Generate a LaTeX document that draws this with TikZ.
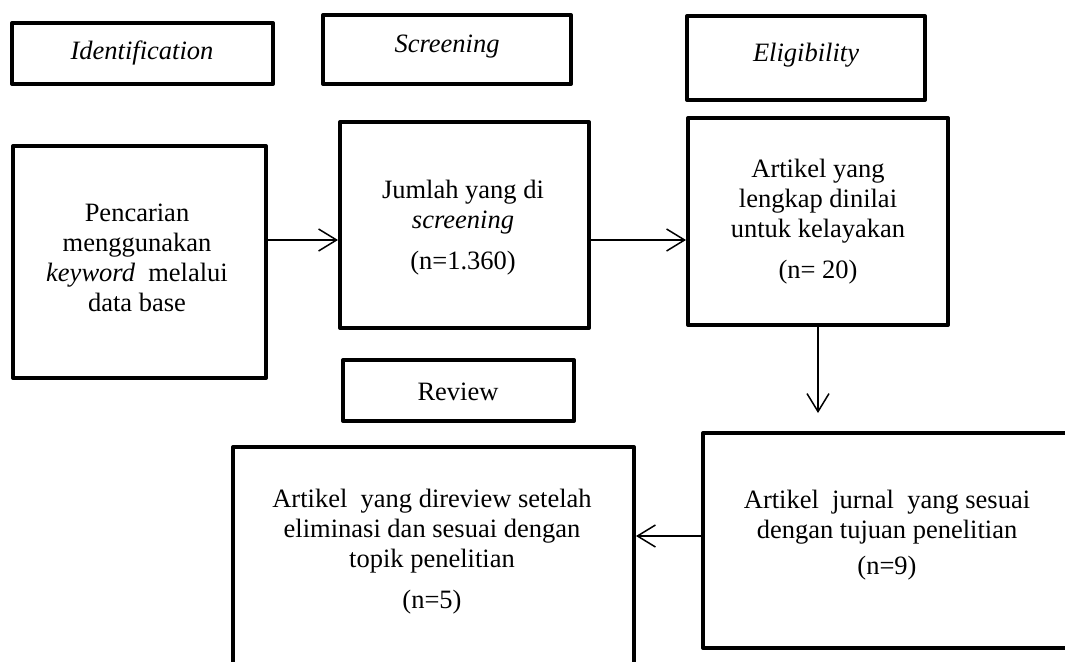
\documentclass[tikz,border=0pt]{standalone}
\usepackage{fontspec}
\setmainfont{Liberation Serif}
\usetikzlibrary{arrows.meta}
\newcommand\fsz{\fontsize{26.5}{30}\selectfont}
\begin{document}
\begin{tikzpicture}[x=1pt,y=-1pt,
  box/.style={draw, line width=4pt, line join=round, rectangle, inner sep=0pt, outer sep=0pt},
  txt/.style={align=center, font=\fsz, inner sep=0pt},
  arr/.style={line width=1.5pt, -{Straight Barb[length=18pt,width=22pt,line width=1.5pt]}, shorten >=2pt}]
\useasboundingbox (0,0) rectangle (1065,661);
\clip (0,0) rectangle (1065,661);
% header boxes
\node[box, minimum width=261pt, minimum height=61pt] (ident) at (142.5,53.5) {};
\node[box, minimum width=248pt, minimum height=69pt] (screen) at (447,49.5) {};
\node[box, minimum width=238pt, minimum height=84pt] (elig) at (806,58) {};
\node[txt] (tident) at (142,53) {\textit{Identification}};
\node[txt] (tscreen) at (447,47) {\textit{Screening}};
\node[txt] (telig) at (806,55) {\textit{Eligibility}};
% main boxes
\node[box, minimum width=253pt, minimum height=232pt] (pen) at (139.5,262) {};
\node[box, minimum width=249pt, minimum height=206pt] (jum) at (464.5,225) {};
\node[box, minimum width=260pt, minimum height=207pt] (len) at (818,221.5) {};
\node[box, minimum width=231pt, minimum height=61pt] (rev) at (458.5,390.5) {};
\node[box, minimum width=401pt, minimum height=273pt] (dir) at (433.5,583.5) {};
\node[box, minimum width=417pt, minimum height=215pt] (jur) at (911.5,540.5) {};
\node[txt] (tpen) at (137,258) {Pencarian\\menggunakan\\\textit{keyword}\ \ melalui\\data base};
\node[txt] (tjum) at (463,228) {Jumlah yang di\\\textit{screening}\\[11pt](n=1.360)};
\node[txt] (tlen) at (818,222) {Artikel yang\\lengkap dinilai\\untuk kelayakan\\[11pt](n= 20)};
\node[txt] (trev) at (458,392) {Review};
\node[txt] (tdir) at (432,552) {Artikel\ \ yang direview setelah\\eliminasi dan sesuai dengan\\topik penelitian\\[11pt](n=5)};
\node[txt] (tjur) at (887,535) {Artikel\ \ jurnal\ \ yang sesuai\\dengan tujuan penelitian\\[6pt](n=9)};
% connectors
\coordinate (a1) at (0,240);
\coordinate (a2) at (0,536);
\coordinate (dend) at (818,413);
\draw[arr] (pen.east |- a1) -- (jum.west |- a1);
\draw[arr] (jum.east |- a1) -- (len.west |- a1);
\draw[arr, shorten >=0pt] (len.south) -- (dend);
\draw[arr] (jur.west |- a2) -- (dir.east |- a2);
\end{tikzpicture}
\end{document}
